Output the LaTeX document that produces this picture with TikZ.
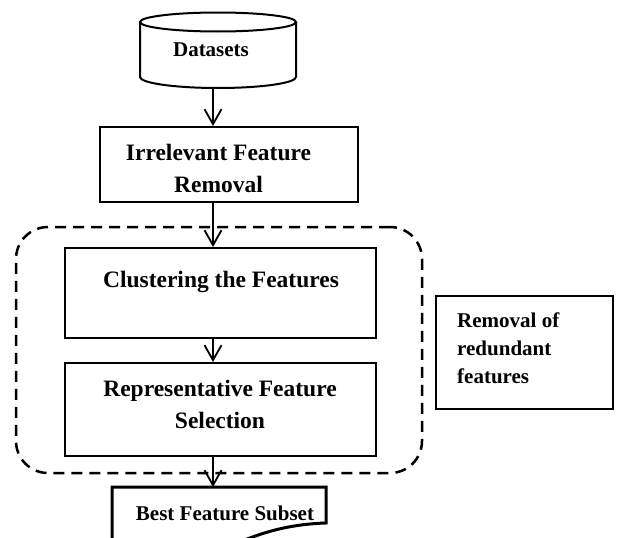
\documentclass[tikz,border=0pt]{standalone}
\usepackage{fontspec}
\setmainfont{Liberation Serif}
\usetikzlibrary{arrows.meta}

\begin{document}
\begin{tikzpicture}[x=1pt, y=-1pt, line join=miter,
  procbox/.style={draw, line width=2pt, inner sep=0pt},
  groupbox/.style={draw, line width=2.5pt, dash pattern=on 11pt off 7pt, rounded corners=32pt, inner sep=0pt},
  notebox/.style={draw, line width=1.2pt, inner sep=0pt},
  boxtext/.style={font=\bfseries\fontsize{23.5}{32}\selectfont, align=center, inner sep=0pt},
  smalltext/.style={font=\bfseries\fontsize{21}{28}\selectfont, inner sep=0pt},
  flow/.style={-{Straight Barb[length=15pt, width=17pt, line width=1.8pt]}, line width=1.8pt}]
\useasboundingbox (0,0) rectangle (619,538);
\clip (0,0) rectangle (619,538);
\coordinate (axis) at (213,0);
% ---- datasets (cylinder) ----
\node[inner sep=0pt, minimum width=156pt, minimum height=75pt] (data) at (218,50.5) {};
\draw[line width=2pt] (218,22) ellipse[x radius=78, y radius=9.5];
\draw[line width=2pt] (140,22) -- (140,77) arc[start angle=180, end angle=0, x radius=78, y radius=11] -- (296,22);
\node[smalltext] (datalbl) at (211,50) {Datasets};
% ---- process boxes ----
\node[procbox, minimum width=258pt, minimum height=75pt] (irrel) at (229,164.5) {};
\node[boxtext] (irrellbl) at (218.5,168.5) {Irrelevant Feature\\Removal};
\node[procbox, minimum width=311pt, minimum height=90pt] (cluster) at (220.5,293) {};
\node[boxtext] (clusterlbl) at (221,282) {Clustering the Features};
\node[procbox, minimum width=311pt, minimum height=93pt] (select) at (220.5,409.5) {};
\node[boxtext] (selectlbl) at (220,404) {Representative Feature\\Selection};
% ---- redundancy group and its note ----
\node[groupbox, minimum width=406pt, minimum height=246pt] (redund) at (219,350) {};
\node[notebox, minimum width=177pt, minimum height=113pt] (note) at (524.5,352.5) {};
\node[smalltext, align=left, anchor=west] (notelbl) at (457,348) {Removal of\\redundant\\features};
% ---- output (document shape) ----
\coordinate (best) at (112,487);
\draw[line width=3pt] (112,548) -- (best) -- (326,487) -- (326,523)
  .. controls (295,524) and (268,530) .. (240,542);
\node[smalltext] (bestlbl) at (225,513) {Best Feature Subset};
% ---- flow arrows ----
\draw[flow] (axis |- data.south) -- (axis |- irrel.north);
\draw[flow] (axis |- irrel.south) -- (axis |- cluster.north);
\draw[flow] (axis |- cluster.south) -- (axis |- select.north);
\draw[flow] (axis |- select.south) -- (axis |- best);
\end{tikzpicture}
\end{document}
